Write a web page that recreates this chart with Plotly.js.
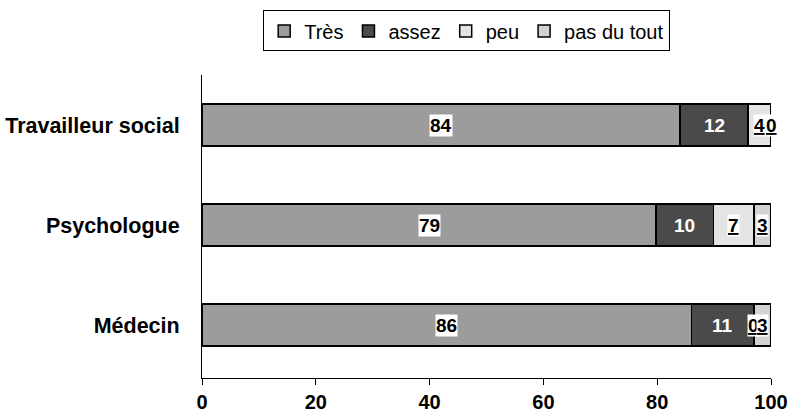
<!DOCTYPE html>
<html>
<head>
<meta charset="utf-8">
<script src="https://cdn.plot.ly/plotly-3.0.1.min.js"></script>
<style>html,body{margin:0;padding:0;background:#fff;}#chart{width:791px;height:415px;}</style>
</head>
<body>
<div id="chart"></div>
<script>
// Data (bottom to top)
const categories = ['Médecin', 'Psychologue', 'Travailleur social'];
const seriesNames = ['Très', 'assez', 'peu', 'pas du tout'];
const tres = [86, 79, 84];
const assez = [11, 10, 12];
const peu = [0, 7, 4];
const pasDuTout = [3, 3, 0];
const xTicks = [0, 20, 40, 60, 80, 100];

const allSeries = [tres, assez, peu, pasDuTout];
const colors = ['#9c9c9c', '#4a4a4a', '#e4e4e4', '#d2d2d2'];
const FONT = 'Arial, "Liberation Sans", sans-serif';

const traces = allSeries.map((vals, i) => ({
  type: 'bar',
  orientation: 'h',
  name: seriesNames[i],
  y: categories,
  x: vals,
  width: 0.42,
  marker: {color: colors[i], line: {color: '#000', width: 1.5}},
  hoverinfo: 'none'
}));

// labels at the centre of each (normalised) segment
const annotations = [];
categories.forEach((cat, c) => {
  const total = allSeries.reduce((s, arr) => s + arr[c], 0);
  let cum = 0;
  allSeries.forEach((arr, i) => {
    const v = arr[c];
    const mid = (cum + v / 2) / total * 100;
    cum += v;
    const isDark = i === 1;
    const underline = i >= 2;
    annotations.push({
      x: mid, y: cat, xref: 'x', yref: 'y',
      text: underline ? '<u>' + v + '</u>' : String(v),
      showarrow: false,
      font: {family: FONT, size: 19, weight: 'bold', color: isDark ? '#fff' : '#000'},
      bgcolor: isDark ? 'rgba(0,0,0,0)' : '#fff',
      borderpad: 0
    });
  });
});

const layout = {
  width: 791, height: 415,
  margin: {l: 202, r: 20, t: 75, b: 37},
  paper_bgcolor: '#fff', plot_bgcolor: '#fff',
  barmode: 'stack',
  barnorm: 'percent',
  showlegend: true,
  legend: {
    orientation: 'h',
    xref: 'container', yref: 'container',
    x: 0.59, xanchor: 'center', y: 0.975, yanchor: 'top',
    bordercolor: '#000', borderwidth: 1,
    font: {family: FONT, size: 20, color: '#000'},
    traceorder: 'normal',
    itemwidth: 30
  },
  xaxis: {
    range: [0, 100],
    tickvals: xTicks,
    ticktext: xTicks.map(String),
    ticks: 'outside', ticklen: 6, tickcolor: '#000',
    showline: true, linecolor: '#000', linewidth: 1,
    showgrid: false, zeroline: false,
    tickfont: {family: FONT, size: 20, weight: 'bold', color: '#000'},
    fixedrange: true
  },
  yaxis: {
    type: 'category',
    range: [-0.53, 2.5],
    showline: true, linecolor: '#000', linewidth: 1,
    ticks: '', showgrid: false, zeroline: false,
    ticklabelstandoff: 17,
    tickfont: {family: FONT, size: 21.5, weight: 'bold', color: '#000'},
    fixedrange: true
  },
  annotations: annotations
};

Plotly.newPlot('chart', traces, layout, {displayModeBar: false, staticPlot: true});
</script>
</body>
</html>
